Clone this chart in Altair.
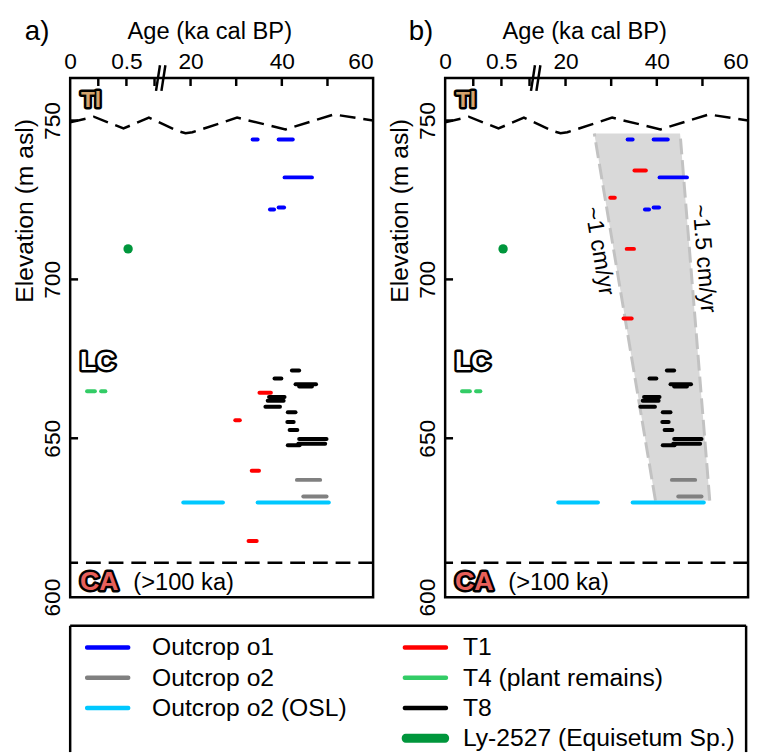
import altair as alt
import pandas as pd

FONT = "Liberation Sans"

# ---------------- values ----------------
series_names = ["Outcrop o1", "Outcrop o2", "Outcrop o2 (OSL)", "T1",
                "T4 (plant remains)", "T8", "Ly-2527 (Equisetum Sp.)"]
series_colors = ["#0000ff", "#808080", "#00c8ff", "#ff0000",
                 "#33cc66", "#000000", "#00963c"]
legend_col = [0, 0, 0, 1, 1, 1, 1]
legend_row = [0, 1, 2, 0, 1, 2, 3]

# Outcrop o1 (age ranges ka cal BP, elevation m asl)
o1_start = [33.6, 39.3, 40.6, 37.4, 39.3]
o1_end = [34.7, 42.4, 46.6, 38.3, 40.5]
o1_elev = [744.0, 744.0, 732.1, 722.0, 722.6]
# Outcrop o2
o2_start = [43.3, 44.7]
o2_end = [48.4, 49.8]
o2_elev = [636.9, 631.7]
# Outcrop o2 (OSL)
osl_start = [18.4, 34.7]
osl_end = [27.1, 50.3]
osl_elev = [629.8, 629.8]
# T1 (panel a / panel b elevations)
t1_start = [35.1, 29.8, 33.4, 32.7]
t1_end = [37.6, 30.8, 35.0, 34.5]
t1_elev_a = [664.3, 655.7, 639.8, 617.7]
t1_elev_b = [734.3, 725.7, 709.6, 687.7]
# T4 (plant remains)
t4_start = [0.15, 0.275]
t4_end = [0.22, 0.313]
t4_elev = [664.8, 664.8]
# T8
t8_start = [42.2, 38.4, 43.0, 43.8, 37.2, 36.9, 36.4, 41.3, 41.2, 41.7, 43.8, 43.6, 41.3]
t8_end = [43.8, 39.9, 47.5, 46.6, 40.6, 40.4, 39.6, 43.0, 42.6, 43.4, 49.8, 49.5, 43.9]
t8_elev = [671.3, 668.8, 667.0, 666.3, 663.0, 661.8, 659.9, 658.2, 655.1, 652.6, 649.8, 648.3, 647.8]
# Ly-2527 (Equisetum Sp.)
ly_age = [0.515]
ly_elev = [709.6]

# Tl boundary (wavy dashed line)
tl_age = [0, 0.21, 0.474, 0.70, 17.4, 18.9, 20.4, 30.2, 40.8, 51.4, 60]
tl_elev = [749.4, 751.2, 747.5, 750.9, 746.6, 746.0, 746.3, 750.9, 747.2, 751.9, 750.0]
# CA boundary
ca_elev = [610.8]
# accumulation band (panel b)
band_elev = [745.9, 630.4]
band_left_age = [26.3, 39.7]
band_right_age = [45.1, 51.6]

# axis ticks
tick_ages = [0.25, 0.5, 0.75, 20, 30, 40, 50]
labelled_ages = [0, 0.5, 20, 40, 60]
tick_labels = ["0", "0.5", "20", "40", "60"]
elev_ticks = [600, 650, 700, 750]
elev_minor = [650, 700, 750]

# ---------------- broken age axis ----------------
W, H = 307, 526
Y_DOMAIN = [600, 763.35]
YOUNG_PX = 114.0
OLD_PX = 4.625
OLD_AT_20 = 122.0
BREAK_U = 92.0


def pos(age):
    return age * YOUNG_PX if age < 5 else OLD_AT_20 + (age - 20) * OLD_PX


lab_pos = [pos(a) for a in labelled_ages]
label_expr = "".join(f"abs(datum.value - {p}) < 0.5 ? '{t}' : " for p, t in zip(lab_pos, tick_labels)) + "''"

xs = alt.Scale(domain=[0, W], nice=False, zero=False)
ys = alt.Scale(domain=Y_DOMAIN, nice=False, zero=False)

x_axis = alt.Axis(orient="top", values=lab_pos, labelExpr=label_expr, ticks=False, tickSize=0,
                  domain=False, grid=False, labelOverlap=False, labelFlush=False,
                  labelFontSize=23, labelPadding=10, labelBaseline="alphabetic",
                  labelAlign=alt.condition(f"datum.value > {W - 1}", alt.value("right"), alt.value("center")),
                  title="Age (ka cal BP)", titleFontSize=24, titleX=141, titleY=-40,
                  titleBaseline="alphabetic", titleAlign="center")
y_axis = alt.Axis(orient="left", values=elev_ticks, ticks=False, tickSize=0, domain=False, grid=False,
                  labelOverlap=False, labelFlush=False, labelAngle=270, labelAlign="center",
                  labelBaseline="alphabetic", labelPadding=11, labelFontSize=23,
                  title="Elevation (m asl)", titleFontSize=25, titleAngle=270, titleX=-38, titleY=134,
                  titleAlign="center", titleBaseline="alphabetic")


def X(f):
    return alt.X(f"{f}:Q", scale=xs, axis=x_axis)


def Y(f):
    return alt.Y(f"{f}:Q", scale=ys, axis=y_axis)


color_scale = alt.Scale(domain=series_names, range=series_colors)


def bars_frame(t1_elev):
    rows = []
    groups = [("Outcrop o1", o1_start, o1_end, o1_elev),
              ("Outcrop o2", o2_start, o2_end, o2_elev),
              ("Outcrop o2 (OSL)", osl_start, osl_end, osl_elev),
              ("T1", t1_start, t1_end, t1_elev),
              ("T4 (plant remains)", t4_start, t4_end, t4_elev),
              ("T8", t8_start, t8_end, t8_elev)]
    for name, s, e, el in groups:
        for a, b, y in zip(s, e, el):
            rows.append({"series": name, "u": pos(a), "u2": pos(b), "elev": y})
    return pd.DataFrame(rows)


def note(text, age, elev, size, fill="black", outline=False, angle=0, align="left",
         baseline="alphabetic", weight="normal"):
    df = pd.DataFrame({"u": [pos(age)], "elev": [elev], "t": [text]})
    out = []
    if outline:
        out.append(alt.Chart(df).mark_text(align=align, baseline=baseline, fontSize=size, fontWeight=weight,
                                           angle=angle, color="black", stroke="black", strokeWidth=5,
                                           strokeJoin="round")
                   .encode(x=X("u"), y=Y("elev"), text="t:N"))
    out.append(alt.Chart(df).mark_text(align=align, baseline=baseline, fontSize=size, fontWeight=weight,
                                       angle=angle, color=fill)
               .encode(x=X("u"), y=Y("elev"), text="t:N"))
    return out


def panel(t1_elev, letter, letter_x, band):
    layers = []
    if band:
        bdf = pd.DataFrame({"elev": band_elev,
                            "u": [pos(a) for a in band_left_age],
                            "u2": [pos(a) for a in band_right_age]})
        layers.append(alt.Chart(bdf).mark_area(orient="horizontal", color="#d9d9d9", opacity=1)
                      .encode(y=Y("elev"), x=X("u"), x2=alt.X2("u2")))
        edf = pd.DataFrame({"edge": ["L", "L", "R", "R"],
                            "u": [pos(a) for a in band_left_age] + [pos(a) for a in band_right_age],
                            "elev": band_elev + band_elev})
        layers.append(alt.Chart(edf).mark_line(color="#c2c2c2", strokeWidth=3, strokeDash=[16, 6])
                      .encode(x=X("u"), y=Y("elev"), detail="edge:N", order="elev:Q"))
        layers += note("~1 cm/yr", 27.4, 708.9, 23.5, angle=80.5, align="center", baseline="middle")
        layers += note("~1.5 cm/yr", 50.3, 706.5, 23.5, angle=85.4, align="center", baseline="middle")

    tdf = pd.DataFrame({"u": [pos(a) for a in tl_age], "elev": tl_elev, "i": list(range(len(tl_age)))})
    layers.append(alt.Chart(tdf).mark_line(color="black", strokeWidth=2.5, strokeDash=[16, 8])
                  .encode(x=X("u"), y=Y("elev"), order="i:Q"))
    layers.append(alt.Chart(pd.DataFrame({"elev": ca_elev})).mark_rule(color="black", strokeWidth=2.5,
                                                                         strokeDash=[15, 8])
                  .encode(y=Y("elev")))

    layers.append(alt.Chart(bars_frame(t1_elev)).mark_rule(strokeWidth=4, strokeCap="round")
                  .encode(x=X("u"), x2=alt.X2("u2"), y=Y("elev"),
                          color=alt.Color("series:N", scale=color_scale, legend=None)))
    ldf = pd.DataFrame({"series": [series_names[-1]] * len(ly_age),
                        "u": [pos(a) for a in ly_age], "elev": ly_elev})
    layers.append(alt.Chart(ldf).mark_circle(size=90, opacity=1)
                  .encode(x=X("u"), y=Y("elev"),
                          color=alt.Color("series:N", scale=color_scale, legend=None)))

    layers += note("Tl", 0.096, 754.2, 23, fill="#d4a36c", outline=True, weight="bold")
    layers += note("LC", 0.088, 671.6, 27, fill="white", outline=True, weight="bold")
    layers += note("CA", 0.088, 602.3, 27, fill="#e8605a", outline=True, weight="bold")
    layers += note("(>100 ka)", 0.561, 602.3, 24)

    # inward ticks
    layers.append(alt.Chart(pd.DataFrame({"u": [pos(a) for a in tick_ages]}))
                  .mark_rule(color="black", strokeWidth=2.5)
                  .encode(x=X("u"), y=alt.value(0), y2=alt.value(8)))
    layers.append(alt.Chart(pd.DataFrame({"elev": elev_minor}))
                  .mark_rule(color="black", strokeWidth=2.5)
                  .encode(y=Y("elev"), x=alt.value(0), x2=alt.value(8)))
    # axis break marks (two slanted strokes)
    layers.append(alt.Chart(pd.DataFrame({"k": [0, 1]}))
                  .transform_calculate(u=f"{BREAK_U} - 1 + 5.5 * datum.k",
                                       u2=f"{BREAK_U} - 5 + 5.5 * datum.k")
                  .mark_rule(color="black", strokeWidth=2.5)
                  .encode(x=X("u"), x2=alt.X2("u2"), y=alt.value(-13), y2=alt.value(13)))
    # panel letter
    layers.append(alt.Chart(pd.DataFrame({"t": [letter]})).mark_text(align="left", baseline="alphabetic",
                                                                       fontSize=28, color="black")
                  .encode(x=alt.value(letter_x), y=alt.value(-39), text="t:N"))
    return alt.layer(*layers).properties(width=W, height=H)


panel_a = panel(t1_elev_a, "a)", -46, False)
panel_b = panel(t1_elev_b, "b)", -37, True)

# ---------------- legend ----------------
LEG_W, LEG_H = 685, 128
leg_df = pd.DataFrame({"label": series_names, "col": legend_col, "row": legend_row})
leg_axis = alt.Axis(title="x", titleColor="transparent", titleFontSize=25, titleAngle=270, titleX=-38,
                    titleY=60, titleAlign="center", titleBaseline="alphabetic", labels=False, ticks=False,
                    domain=False, grid=False)
leg_y = alt.Y("row:Q", scale=alt.Scale(domain=[0, 3], range=[22, 114]), axis=leg_axis)
leg_color = alt.Color("label:N", scale=color_scale, legend=None)
last = series_names[-1]
thin = (alt.Chart(leg_df).transform_filter(f"datum.label != '{last}'")
        .mark_tick(orient="horizontal", size=46, thickness=4.5, opacity=1, cornerRadius=2)
        .encode(x=alt.X("col:Q", scale=alt.Scale(domain=[0, 1], range=[38, 360]), axis=None),
                y=leg_y, color=leg_color))
thick = (alt.Chart(leg_df).transform_filter(f"datum.label == '{last}'")
         .mark_tick(orient="horizontal", size=48, thickness=9, opacity=1, cornerRadius=4)
         .encode(x=alt.X("col:Q", scale=alt.Scale(domain=[0, 1], range=[38, 360]), axis=None),
                 y=leg_y, color=leg_color))
texts = (alt.Chart(leg_df).mark_text(align="left", baseline="middle", fontSize=25, color="black")
         .encode(x=alt.X("col:Q", scale=alt.Scale(domain=[0, 1], range=[83, 398]), axis=None),
                 y=leg_y, text="label:N"))
one = pd.DataFrame({"k": [0]})
box = [
    alt.Chart(one).mark_rule(color="black", strokeWidth=2.5).encode(x=alt.value(0), x2=alt.value(LEG_W), y=alt.value(0)),
    alt.Chart(one).mark_rule(color="black", strokeWidth=2.5).encode(x=alt.value(0), y=alt.value(0), y2=alt.value(LEG_H)),
    alt.Chart(one).mark_rule(color="black", strokeWidth=2.5).encode(x=alt.value(LEG_W), y=alt.value(0), y2=alt.value(LEG_H)),
]
legend = (alt.layer(thin, thick, texts, *box)
          .resolve_scale(x="independent")
          .properties(width=LEG_W, height=LEG_H, view=alt.ViewBackground(stroke="transparent")))

chart = (alt.vconcat(alt.hconcat(panel_a, panel_b, spacing=6), legend, spacing=5)
         .properties(padding={"left": 3, "top": 3, "right": 0, "bottom": 0})
         .configure_view(stroke="black", strokeWidth=2.5)
         .configure_axis(labelFont=FONT, titleFont=FONT, labelColor="black", titleColor="black",
                         titleFontWeight="normal")
         .configure_text(font=FONT))

chart.save("out.html", embed_options={"renderer": "svg", "actions": False})
